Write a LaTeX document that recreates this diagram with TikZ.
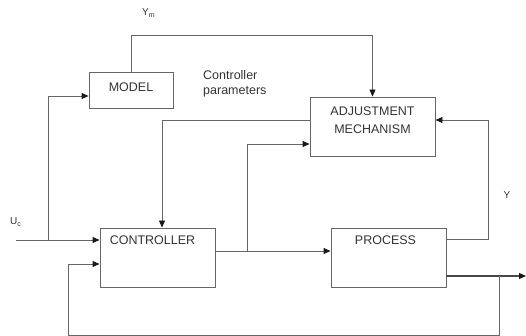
\documentclass[tikz,border=0pt]{standalone}
\usepackage{fontspec}
\setmainfont{Liberation Sans}
\usetikzlibrary{arrows.meta}
\definecolor{lineg}{HTML}{666666}
\definecolor{textg}{HTML}{333333}
\begin{document}
\begin{tikzpicture}[x=1pt,y=-1pt,
  box/.style={draw=lineg, line width=0.9pt, inner sep=0pt, text=textg,
    font=\fontsize{12.5}{14}\selectfont, align=center},
  lbl/.style={text=textg, font=\fontsize{12.5}{14}\selectfont, inner sep=0pt},
  sm/.style={text=textg, font=\fontsize{10}{12}\selectfont, inner sep=0pt},
  wire/.style={draw=lineg, line width=0.9pt},
  arr/.style={wire, -{Triangle[length=7pt,width=6pt,color=black!90]}}]
\useasboundingbox (0,0) rectangle (526,336);

% blocks
\node[box, minimum width=84pt, minimum height=36pt] (model) at (131,90) {};
\node[lbl] (modeltxt) at (131,87) {MODEL};
\node[box, minimum width=125pt, minimum height=59pt] (adj) at (372.5,126.5) {};
\node[lbl, align=center] (adjtxt) at (372.5,120) {ADJUSTMENT\\[4pt]MECHANISM};
\node[box, minimum width=115pt, minimum height=59pt,
  label={[lbl, anchor=north, yshift=-8pt, xshift=-5pt]north:CONTROLLER}] (ctrl) at (157.5,257.5) {};
\node[box, minimum width=115pt, minimum height=59pt,
  label={[lbl, anchor=north, yshift=-8pt, xshift=-3pt]north:PROCESS}] (proc) at (388.5,257.5) {};

% free ends and branch points
\coordinate (uc) at (16,240);
\coordinate (ucb) at (48,240);
\coordinate (cb) at (247,251);
\coordinate (yb) at (488,239);
\coordinate (ob) at (499,276);
\coordinate (out) at (526,276);

% reference model output to the adjustment mechanism
\draw[arr] (model.north) -- ++(0,-36) -| (adj.north);
% controller parameters
\draw[arr] ([yshift=6.5pt]adj.west) -| ([xshift=4.5pt]ctrl.north);
% command signal
\draw[arr] (uc) -- ([yshift=17.5pt]ctrl.west);
\draw[arr] (ucb) |- ([yshift=-6pt]model.west);
% control signal
\draw[arr] ([yshift=6.5pt]ctrl.east) -- ([yshift=6.5pt]proc.west);
\draw[arr] (cb) |- ([yshift=-17.5pt]adj.west);
% plant output
\draw[arr] ([yshift=18.5pt]proc.east) -- (yb) |- ([yshift=6.5pt]adj.east);
\draw[arr, line width=1.2pt, draw=lineg!70!black] ([yshift=-18.5pt]proc.east) -- (out);
\draw[arr] (ob) -- ++(0,59) -| (68,264) -- ([yshift=-6.5pt]ctrl.west);

% signal labels
\node[sm, anchor=west] (ym) at (142,13) {Y\textsubscript{m}};
\node[sm, anchor=west] (ucl) at (10,222) {U\textsubscript{c}};
\node[sm] (yl) at (507,195) {Y};
\node[lbl, anchor=west, align=left] (cp) at (203,84) {Controller\\[1pt]parameters};
\end{tikzpicture}
\end{document}
